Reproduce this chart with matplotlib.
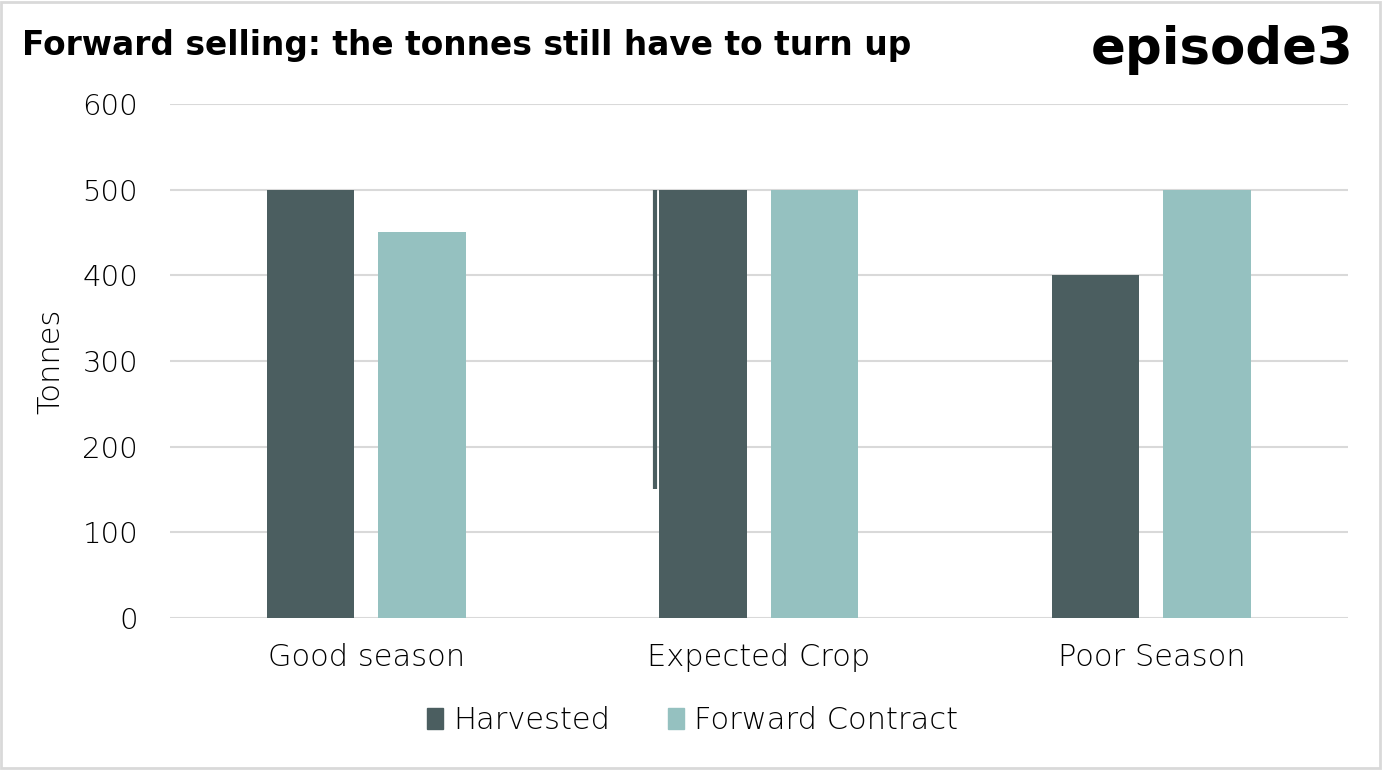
import numpy as np
import matplotlib.pyplot as plt
from matplotlib.patches import Rectangle, Patch

categories = ["Good season", "Expected Crop", "Poor Season"]
harvested = [500, 500, 400]
forward_contract = [450, 500, 500]
# stray thin bar seen next to the Expected Crop harvested bar
stray_line = (1, 150, 500)  # category index, bottom, top

c_dark = "#4B5E60"
c_light = "#95C1C0"
grid_c = "#D9D9D9"
plt.rcParams["font.family"] = ["DejaVu Sans"]

fig = plt.figure(figsize=(13.84, 7.7), dpi=100)
ax = fig.add_axes([0.1228, 0.1974, 0.851, 0.6676])

x = np.arange(len(categories))
w = 0.223
off = 0.142
ax.bar(x - off, harvested, w, color=c_dark, label="Harvested", zorder=3)
ax.bar(x + off, forward_contract, w, color=c_light, label="Forward Contract", zorder=3)
ci, lo, hi = stray_line
ax.vlines(ci - off - w / 2 - 0.012, lo, hi, color=c_dark, linewidth=3, zorder=3)

ax.set_xlim(-0.5, 2.5)
ax.set_ylim(0, 600)
ax.set_yticks(range(0, 601, 100))
ax.set_xticks(x)
ax.set_xticklabels(categories, fontsize=22, fontweight="light")
for t in ax.get_yticklabels():
    t.set_fontweight("light")
ax.tick_params(axis="y", labelsize=21, length=0, pad=23)
ax.tick_params(axis="x", length=0, pad=18)
ax.grid(axis="y", color=grid_c, linewidth=1.5, zorder=0)
ax.set_axisbelow(True)
for s in ax.spines.values():
    s.set_visible(False)
ax.set_ylabel("Tonnes", fontsize=22, fontweight="light", labelpad=12)

ax.legend(handles=[Patch(color=c_dark, label="Harvested"), Patch(color=c_light, label="Forward Contract")],
          loc="center", bbox_to_anchor=(0.444, -0.2), ncol=2, frameon=False,
          prop={"size": 22, "weight": "light"},
          handlelength=0.5, handleheight=0.65, handletextpad=0.35, columnspacing=1.9)

fig.text(0.016, 0.941, "Forward selling: the tonnes still have to turn up", fontsize=23.7,
         fontweight="bold", ha="left", va="center")
fig.text(0.978, 0.935, "episode3", fontsize=37, fontweight="bold", ha="right", va="center")

fig.patches.append(Rectangle((0.001, 0.002), 0.996, 0.995, transform=fig.transFigure,
                             fill=False, edgecolor=grid_c, linewidth=2))

fig.savefig("out.png", dpi=100)
